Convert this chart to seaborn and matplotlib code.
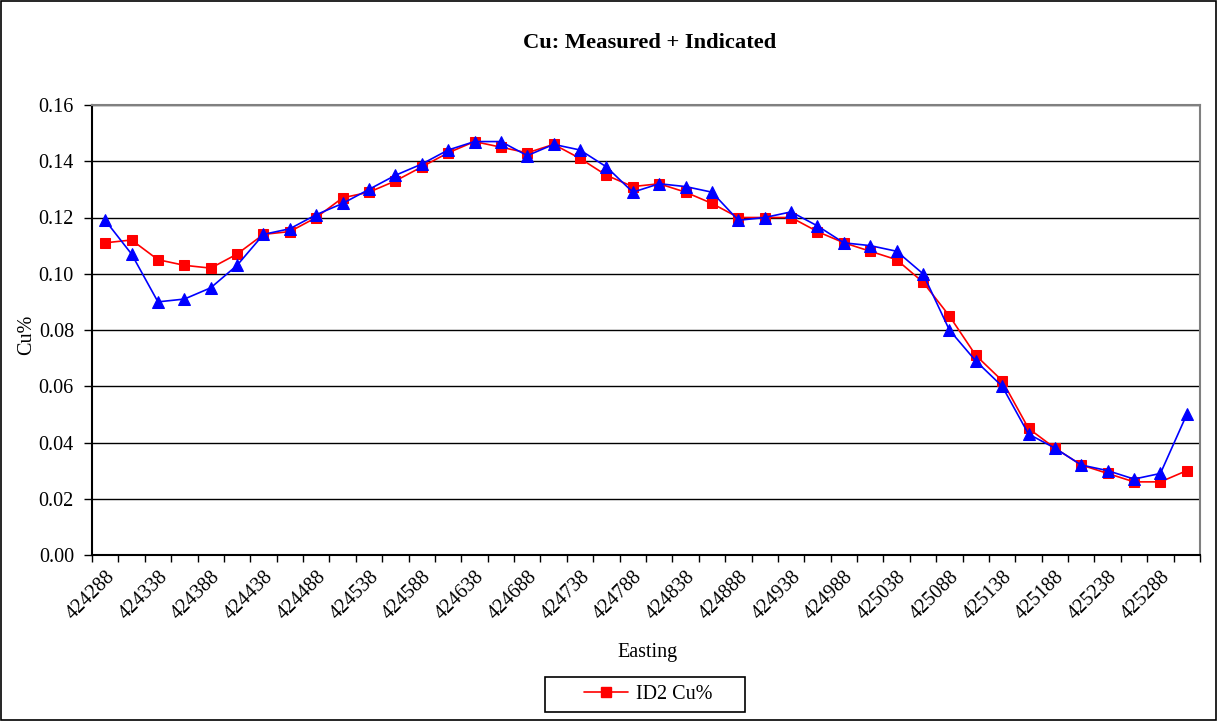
import matplotlib
matplotlib.use("Agg")
import matplotlib.pyplot as plt
import matplotlib.patches as mpatches
from matplotlib.lines import Line2D
import numpy as np
import pandas as pd
import seaborn as sns

eastings = [str(424288 + 25 * i) for i in range(42)]

id2_cu = [0.111, 0.112, 0.105, 0.103, 0.102, 0.107, 0.114, 0.115, 0.120, 0.127,
          0.129, 0.133, 0.138, 0.143, 0.147, 0.145, 0.143, 0.146, 0.141, 0.135,
          0.131, 0.132, 0.129, 0.125, 0.120, 0.120, 0.120, 0.115, 0.111, 0.108,
          0.105, 0.097, 0.085, 0.071, 0.062, 0.045, 0.038, 0.032, 0.029, 0.026,
          0.026, 0.030]

other_cu = [0.119, 0.107, 0.090, 0.091, 0.095, 0.103, 0.114, 0.116, 0.121, 0.125,
            0.130, 0.135, 0.139, 0.144, 0.147, 0.147, 0.142, 0.146, 0.144, 0.138,
            0.129, 0.132, 0.131, 0.129, 0.119, 0.120, 0.122, 0.117, 0.111, 0.110,
            0.108, 0.100, 0.080, 0.069, 0.060, 0.043, 0.038, 0.032, 0.030, 0.027,
            0.029, 0.050]

yticks = [0.00, 0.02, 0.04, 0.06, 0.08, 0.10, 0.12, 0.14, 0.16]

sns.set_theme(style="white")
plt.rcParams['font.family'] = ['Liberation Serif', 'DejaVu Serif']
plt.rcParams['text.color'] = 'black'
plt.rcParams['axes.labelcolor'] = 'black'
plt.rcParams['xtick.color'] = 'black'
plt.rcParams['ytick.color'] = 'black'

FS = 14.5

df = pd.DataFrame({"Easting": eastings, "ID2": id2_cu, "Other": other_cu})

fig = plt.figure(figsize=(12.17, 7.21), dpi=100)
ax = fig.add_axes([92/1217, 1 - 555/721, (1200-92)/1217, (555-105)/721])

sns.lineplot(data=df, x="Easting", y="ID2", ax=ax, color="#ff0000", marker="s",
             markersize=7.5, markeredgecolor="#ff0000", linewidth=1.2, sort=False, zorder=3)
sns.lineplot(data=df, x="Easting", y="Other", ax=ax, color="#0000ff", marker="^",
             markersize=8.5, markeredgecolor="#0000ff", linewidth=1.2, sort=False, zorder=4)

n = len(eastings)
ax.set_xlim(-0.5, n - 0.5)
ax.set_ylim(0, 0.16)
ax.set_yticks(yticks)
ax.set_yticklabels([f"{v:.2f}" for v in yticks], fontsize=FS)
ax.set_xticks(range(0, n, 2))
ax.set_xticklabels([eastings[i] for i in range(0, n, 2)], rotation=45, ha="right",
                   rotation_mode="anchor", fontsize=FS)
ax.set_xticks(np.arange(-0.5, n, 1), minor=True)
ax.tick_params(axis="x", which="major", length=0, pad=9)
ax.tick_params(axis="x", which="minor", length=5, width=1, color="black", direction="out", bottom=True)
ax.tick_params(axis="y", length=6, width=1, color="black", direction="out", left=True, pad=7)

ax.yaxis.grid(True, color="black", linewidth=1.0)
ax.xaxis.grid(False)
ax.set_axisbelow(True)
for s in ["left", "bottom"]:
    ax.spines[s].set_color("black")
    ax.spines[s].set_linewidth(1.5)
for s in ["top", "right"]:
    ax.spines[s].set_color("#808080")
    ax.spines[s].set_linewidth(1.5)

ax.set_xlabel("Easting", fontsize=FS)
ax.xaxis.set_label_coords((648-92)/1108, -(643-555)/450)
ax.set_ylabel("Cu%", fontsize=FS, va="center")
ax.yaxis.set_label_coords(-(92-27)/1108, (555-335)/450)

fig.text(650/1217, 1 - 43/721, "Cu: Measured + Indicated", ha="center", va="center",
         fontsize=16.2, fontweight="bold")

# outer border
fig.patches.append(mpatches.Rectangle((1/1217, 1/721), 1215/1217, 719/721, transform=fig.transFigure,
                                      fill=False, edgecolor="black", linewidth=1.2))
# legend box
fig.patches.append(mpatches.Rectangle((545/1217, 1 - 712/721), 200/1217, 35/721, transform=fig.transFigure,
                                      fill=False, edgecolor="black", linewidth=1.2))
handle = Line2D([], [], color="#ff0000", marker="s", markersize=7.5, linewidth=1.2)
fig.legend([handle], ["ID2 Cu%"], loc="center", bbox_to_anchor=(648/1217, 1 - 694.5/721),
           frameon=False, fontsize=FS, handlelength=2.2, handletextpad=0.4)

fig.savefig("out.png", dpi=100)
